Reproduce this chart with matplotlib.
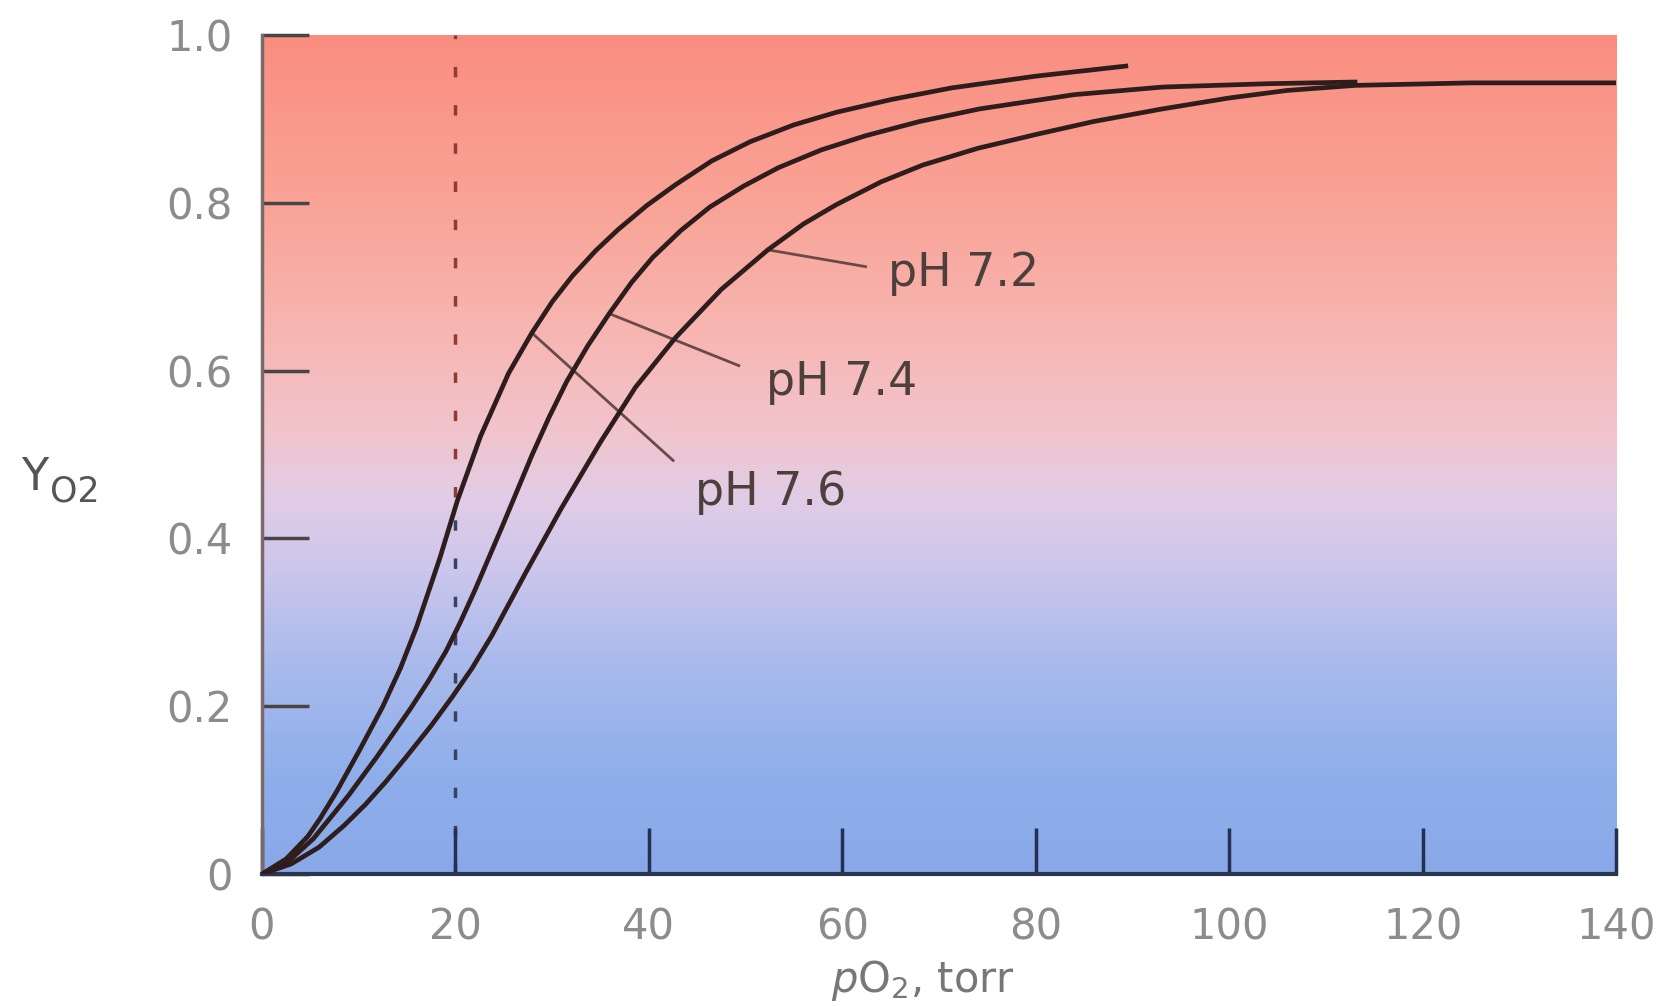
import matplotlib
matplotlib.use("Agg")
import matplotlib.pyplot as plt
import numpy as np
from matplotlib.colors import LinearSegmentedColormap

# oxygen binding curves (pO2 in torr, fractional saturation)
ph76_x = [0, 2.5, 4.75, 6.0, 7.7, 10.1, 12.5, 14.3, 16.0, 18.4, 20.2, 22.6, 25.5, 27.9,
          30.0, 32.1, 34.5, 36.8, 39.8, 42.8, 46.5, 50.5, 55.0, 59.4, 65.0, 71.3, 80.0, 89.3]
ph76_y = [0, 0.018, 0.045, 0.066, 0.098, 0.148, 0.2, 0.245, 0.295, 0.377, 0.445, 0.522, 0.597,
          0.645, 0.682, 0.713, 0.743, 0.768, 0.797, 0.822, 0.85, 0.873, 0.893, 0.908, 0.923,
          0.937, 0.951, 0.963]

ph74_x = [0, 2.8, 5.3, 8.9, 11.9, 15.4, 17.2, 19.0, 20.5, 22.0, 24.9, 27.9, 29.7, 31.5,
          33.7, 35.9, 38.2, 40.4, 43.3, 46.3, 49.8, 53.4, 57.8, 62.4, 68.0, 74.2, 84.0,
          93.1, 104, 113]
ph74_y = [0, 0.016, 0.042, 0.093, 0.14, 0.198, 0.23, 0.265, 0.3, 0.338, 0.416, 0.499, 0.545,
          0.587, 0.63, 0.668, 0.705, 0.735, 0.767, 0.795, 0.82, 0.842, 0.863, 0.88, 0.897,
          0.912, 0.929, 0.938, 0.942, 0.944]

ph72_x = [0, 3.0, 5.9, 8.5, 10.7, 12.8, 14.8, 17.5, 19.6, 21.7, 23.8, 27.3, 30.9, 35.0,
          38.6, 42.8, 47.5, 52.3, 56.0, 59.4, 64.0, 68.3, 74.0, 80.2, 86.0, 93.1, 100, 106,
          113, 125, 140]
ph72_y = [0, 0.012, 0.032, 0.058, 0.083, 0.11, 0.138, 0.177, 0.21, 0.245, 0.285, 0.36, 0.435,
          0.515, 0.58, 0.64, 0.697, 0.744, 0.775, 0.798, 0.825, 0.845, 0.865, 0.882, 0.897,
          0.912, 0.925, 0.934, 0.94, 0.943, 0.943]

curve_labels = ["pH 7.2", "pH 7.4", "pH 7.6"]
label_pos = [(64.7, 0.716), (52.1, 0.586), (44.8, 0.455)]
leader_start = [(52.3, 0.744), (35.9, 0.668), (27.9, 0.645)]
leader_end = [(62.4, 0.724), (49.3, 0.606), (42.5, 0.493)]

x_ticks = [0, 20, 40, 60, 80, 100, 120, 140]
y_ticks = [0, 0.2, 0.4, 0.6, 0.8, 1.0]
y_ticklabels = ["0", "0.2", "0.4", "0.6", "0.8", "1.0"]
marker_x = 20

fig = plt.figure(figsize=(16.75, 10.07), dpi=100)
ax = fig.add_axes([0.1564, 0.132, 0.8085, 0.8332])

# red (top) to blue (bottom) background
bg = LinearSegmentedColormap.from_list("bg", [
    (0.00, "#88a8e8"), (0.12, "#8fafeb"), (0.25, "#a9baec"), (0.36, "#cbc6ec"),
    (0.45, "#e2cce6"), (0.53, "#f2c4cc"), (0.65, "#f7b5b1"), (0.80, "#f9a396"),
    (1.00, "#f98e80")])
grad = np.linspace(0, 1, 256).reshape(-1, 1)
ax.imshow(grad, cmap=bg, origin="lower", extent=[0, 140, 0, 1], aspect="auto", zorder=0)

ax.plot([marker_x, marker_x], [0.45, 1.0], color="#8f3a33", lw=2.5, ls=(0, (3, 8)), zorder=1)
ax.plot([marker_x, marker_x], [0, 0.45], color="#3a4262", lw=2.5, ls=(0, (3, 8)), zorder=1)

for xs, ys in [(ph76_x, ph76_y), (ph74_x, ph74_y), (ph72_x, ph72_y)]:
  ax.plot(xs, ys, color="#2e1d1c", lw=3.4, solid_joinstyle="round", zorder=3)

for txt, (lx, ly), (sx, sy), (ex, ey) in zip(curve_labels, label_pos, leader_start, leader_end):
  ax.plot([sx, ex], [sy, ey], color="#6a4a48", lw=2, zorder=2)
  ax.text(lx, ly, txt, fontsize=33, color="#4d3f3c", family="DejaVu Sans",
          ha="left", va="center", zorder=4)

ax.set_xlim(0, 140)
ax.set_ylim(0, 1)
ax.set_xticks(x_ticks)
ax.set_xticklabels([str(v) for v in x_ticks])
ax.set_yticks(y_ticks)
ax.set_yticklabels(y_ticklabels)
ax.tick_params(axis="y", direction="in", length=34, width=2.5, color="#4a4545",
               pad=21, labelsize=30, labelcolor="#8c8c8c")
ax.tick_params(axis="x", direction="in", length=33, width=2.5, color="#243050",
               pad=23, labelsize=30, labelcolor="#8c8c8c")
for lab in ax.get_xticklabels() + ax.get_yticklabels():
  lab.set_family("DejaVu Sans")

ax.spines["top"].set_visible(False)
ax.spines["right"].set_visible(False)
ax.spines["left"].set_color("#7a6a6a")
ax.spines["left"].set_linewidth(2.5)
ax.spines["bottom"].set_color("#2a3550")
ax.spines["bottom"].set_linewidth(3)

# axis titles
plt.rcParams["mathtext.fontset"] = "dejavusans"
fig.text(0.0125, 0.5134, "Y", fontsize=32, color="#555555", ha="left", va="baseline")
fig.text(0.0300, 0.5018, "O2", fontsize=25, color="#555555", ha="left", va="baseline")
fig.text(0.551, 0.0149, r"$p$O$_2$, torr", fontsize=30, color="#777777",
         ha="center", va="baseline")

plt.savefig("out.png", dpi=100)
plt.close()
